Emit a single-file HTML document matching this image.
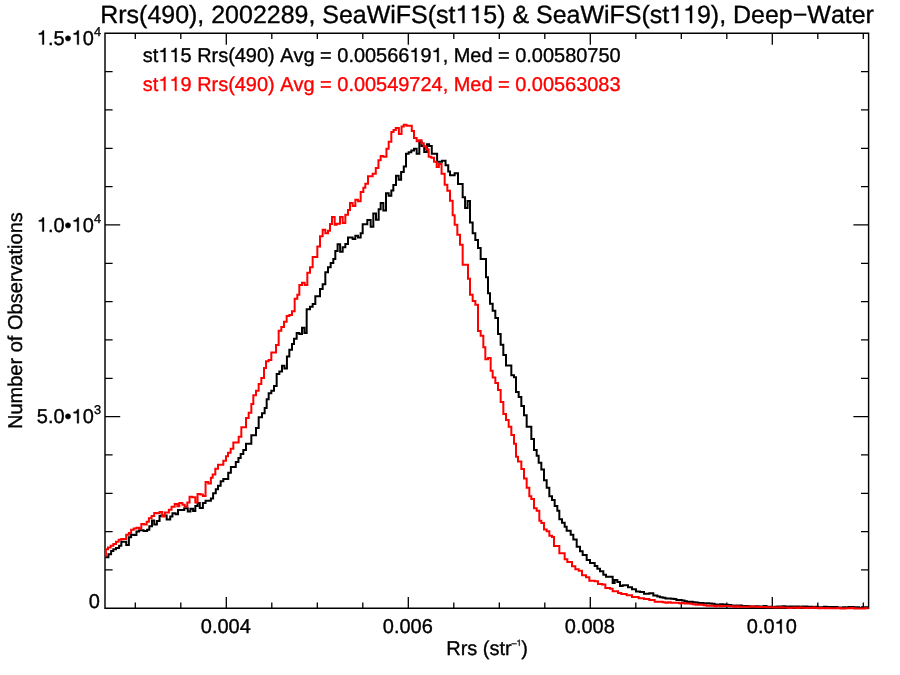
<!DOCTYPE html>
<html><head><meta charset="utf-8"><title>Rrs(490) histogram</title>
<style>
html,body{margin:0;padding:0;background:#fff;}
body{width:900px;height:675px;overflow:hidden;font-family:"Liberation Sans",sans-serif;}
svg{display:block;will-change:transform;}
text{font-family:"Liberation Sans",sans-serif;fill:#000;stroke:#000;stroke-width:0.35px;font-kerning:none;font-variant-ligatures:none;}
</style></head><body>
<svg width="900" height="675" viewBox="0 0 900 675" text-rendering="geometricPrecision">
<rect width="900" height="675" fill="#ffffff"/>
<!-- title -->
<text x="487.1" y="23.0" text-anchor="middle" font-size="24.97">Rrs(490), 2002289, SeaWiFS(st<tspan visibility="hidden">1</tspan><tspan visibility="hidden">1</tspan>5) &amp; SeaWiFS(st<tspan visibility="hidden">1</tspan><tspan visibility="hidden">1</tspan>9), Deep−Water</text>
<!-- legend -->
<text x="142.8" y="62.0" font-size="19.96">st<tspan visibility="hidden">1</tspan><tspan visibility="hidden">1</tspan>5 Rrs(490) Avg = 0.00566<tspan visibility="hidden">1</tspan>9<tspan visibility="hidden">1</tspan>, Med = 0.00580750</text>
<text x="142.8" y="90.8" font-size="19.96" style="fill:#ff0000;stroke:#ff0000">st<tspan visibility="hidden">1</tspan><tspan visibility="hidden">1</tspan>9 Rrs(490) Avg = 0.00549724, Med = 0.00563083</text>
<!-- axis labels -->
<text transform="translate(22,320.6) rotate(-90)" text-anchor="middle" font-size="20.0">Number of Observations</text>
<text x="446.2" y="655.0" font-size="20.0">Rrs (str<tspan font-size="8.6" dy="-9.3">–<tspan visibility="hidden">1</tspan></tspan><tspan dy="9.3">)</tspan></text>
<text x="101.0" y="44.6" text-anchor="end" font-size="20.00"><tspan visibility="hidden">1</tspan>.5•<tspan visibility="hidden">1</tspan>0<tspan font-size="12.80" dy="-9">4</tspan></text>
<text x="101.0" y="231.6" text-anchor="end" font-size="20.00"><tspan visibility="hidden">1</tspan>.0•<tspan visibility="hidden">1</tspan>0<tspan font-size="12.80" dy="-9">4</tspan></text>
<text x="101.0" y="423.2" text-anchor="end" font-size="20.00">5.0•<tspan visibility="hidden">1</tspan>0<tspan font-size="12.80" dy="-9">3</tspan></text>
<text x="99.8" y="608.0" text-anchor="end" font-size="20.00">0</text>
<text x="225.8" y="633.4" text-anchor="middle" font-size="20.00">0.004</text>
<text x="407.8" y="633.4" text-anchor="middle" font-size="20.00">0.006</text>
<text x="589.8" y="633.4" text-anchor="middle" font-size="20.00">0.008</text>
<text x="771.8" y="633.4" text-anchor="middle" font-size="20.00">0.0<tspan visibility="hidden">1</tspan>0</text>
<path transform="translate(455.51,23.00) scale(24.970)" d="M0.359,0H0.275V-0.501H0.101V-0.564C0.190,-0.567 0.262,-0.600 0.293,-0.703H0.359Z" fill="#000000" stroke="#000000" stroke-width="0.0140"/>
<path transform="translate(469.40,23.00) scale(24.970)" d="M0.359,0H0.275V-0.501H0.101V-0.564C0.190,-0.567 0.262,-0.600 0.293,-0.703H0.359Z" fill="#000000" stroke="#000000" stroke-width="0.0140"/>
<path transform="translate(669.22,23.00) scale(24.970)" d="M0.359,0H0.275V-0.501H0.101V-0.564C0.190,-0.567 0.262,-0.600 0.293,-0.703H0.359Z" fill="#000000" stroke="#000000" stroke-width="0.0140"/>
<path transform="translate(683.11,23.00) scale(24.970)" d="M0.359,0H0.275V-0.501H0.101V-0.564C0.190,-0.567 0.262,-0.600 0.293,-0.703H0.359Z" fill="#000000" stroke="#000000" stroke-width="0.0140"/>
<path transform="translate(158.32,62.00) scale(19.960)" d="M0.359,0H0.275V-0.501H0.101V-0.564C0.190,-0.567 0.262,-0.600 0.293,-0.703H0.359Z" fill="#000000" stroke="#000000" stroke-width="0.0175"/>
<path transform="translate(169.41,62.00) scale(19.960)" d="M0.359,0H0.275V-0.501H0.101V-0.564C0.190,-0.567 0.262,-0.600 0.293,-0.703H0.359Z" fill="#000000" stroke="#000000" stroke-width="0.0175"/>
<path transform="translate(409.38,62.00) scale(19.960)" d="M0.359,0H0.275V-0.501H0.101V-0.564C0.190,-0.567 0.262,-0.600 0.293,-0.703H0.359Z" fill="#000000" stroke="#000000" stroke-width="0.0175"/>
<path transform="translate(431.57,62.00) scale(19.960)" d="M0.359,0H0.275V-0.501H0.101V-0.564C0.190,-0.567 0.262,-0.600 0.293,-0.703H0.359Z" fill="#000000" stroke="#000000" stroke-width="0.0175"/>
<path transform="translate(158.32,90.80) scale(19.960)" d="M0.359,0H0.275V-0.501H0.101V-0.564C0.190,-0.567 0.262,-0.600 0.293,-0.703H0.359Z" fill="#ff0000" stroke="#ff0000" stroke-width="0.0175"/>
<path transform="translate(169.41,90.80) scale(19.960)" d="M0.359,0H0.275V-0.501H0.101V-0.564C0.190,-0.567 0.262,-0.600 0.293,-0.703H0.359Z" fill="#ff0000" stroke="#ff0000" stroke-width="0.0175"/>
<path transform="translate(516.53,645.70) scale(8.600)" d="M0.359,0H0.275V-0.501H0.101V-0.564C0.190,-0.567 0.262,-0.600 0.293,-0.703H0.359Z" fill="#000000" stroke="#000000" stroke-width="0.0407"/>
<path transform="translate(36.81,44.60) scale(20.000)" d="M0.359,0H0.275V-0.501H0.101V-0.564C0.190,-0.567 0.262,-0.600 0.293,-0.703H0.359Z" fill="#000000" stroke="#000000" stroke-width="0.0175"/>
<path transform="translate(71.62,44.60) scale(20.000)" d="M0.359,0H0.275V-0.501H0.101V-0.564C0.190,-0.567 0.262,-0.600 0.293,-0.703H0.359Z" fill="#000000" stroke="#000000" stroke-width="0.0175"/>
<path transform="translate(36.81,231.60) scale(20.000)" d="M0.359,0H0.275V-0.501H0.101V-0.564C0.190,-0.567 0.262,-0.600 0.293,-0.703H0.359Z" fill="#000000" stroke="#000000" stroke-width="0.0175"/>
<path transform="translate(71.62,231.60) scale(20.000)" d="M0.359,0H0.275V-0.501H0.101V-0.564C0.190,-0.567 0.262,-0.600 0.293,-0.703H0.359Z" fill="#000000" stroke="#000000" stroke-width="0.0175"/>
<path transform="translate(71.62,423.20) scale(20.000)" d="M0.359,0H0.275V-0.501H0.101V-0.564C0.190,-0.567 0.262,-0.600 0.293,-0.703H0.359Z" fill="#000000" stroke="#000000" stroke-width="0.0175"/>
<path transform="translate(774.58,633.40) scale(20.000)" d="M0.359,0H0.275V-0.501H0.101V-0.564C0.190,-0.567 0.262,-0.600 0.293,-0.703H0.359Z" fill="#000000" stroke="#000000" stroke-width="0.0175"/>
<!-- frame + ticks -->
<path d="M105.0,33.3H868.6V608.3H105.0Z" fill="none" stroke="#000" stroke-width="1.45"/>
<path d="M135.30,608.30v-5.70M135.30,33.30v5.70M180.80,608.30v-5.70M180.80,33.30v5.70M226.30,608.30v-11.40M226.30,33.30v11.40M271.80,608.30v-5.70M271.80,33.30v5.70M317.30,608.30v-5.70M317.30,33.30v5.70M362.80,608.30v-5.70M362.80,33.30v5.70M408.30,608.30v-11.40M408.30,33.30v11.40M453.80,608.30v-5.70M453.80,33.30v5.70M499.30,608.30v-5.70M499.30,33.30v5.70M544.80,608.30v-5.70M544.80,33.30v5.70M590.30,608.30v-11.40M590.30,33.30v11.40M635.80,608.30v-5.70M635.80,33.30v5.70M681.30,608.30v-5.70M681.30,33.30v5.70M726.80,608.30v-5.70M726.80,33.30v5.70M772.30,608.30v-11.40M772.30,33.30v11.40M817.80,608.30v-5.70M817.80,33.30v5.70M863.30,608.30v-5.70M863.30,33.30v5.70M105.00,569.97h7.60M868.60,569.97h-7.60M105.00,531.63h7.60M868.60,531.63h-7.60M105.00,493.30h7.60M868.60,493.30h-7.60M105.00,454.97h7.60M868.60,454.97h-7.60M105.00,416.63h15.20M868.60,416.63h-15.20M105.00,378.30h7.60M868.60,378.30h-7.60M105.00,339.97h7.60M868.60,339.97h-7.60M105.00,301.63h7.60M868.60,301.63h-7.60M105.00,263.30h7.60M868.60,263.30h-7.60M105.00,224.97h15.20M868.60,224.97h-15.20M105.00,186.63h7.60M868.60,186.63h-7.60M105.00,148.30h7.60M868.60,148.30h-7.60M105.00,109.97h7.60M868.60,109.97h-7.60M105.00,71.63h7.60M868.60,71.63h-7.60" fill="none" stroke="#000" stroke-width="1.3"/>
<!-- histograms -->
<path d="M105.33,557.33H108.44V554.22H111.11V551.11H113.33V549.33H116.00V548.00H119.11V545.78H121.33V541.78H126.22V544.89H128.89V537.33H131.11V534.67H133.78V535.11H136.44V531.56H139.11V530.22H143.56V531.11H147.11V529.78H149.33V526.22H152.00V520.44H154.22V524.44H156.89V520.89H159.56V516.00H161.33V515.56H166.67V519.56H170.22V516.44H172.44V513.33H175.56V514.22H178.00V510.11H184.22V508.33H187.78V511.44H190.44V508.78H193.11V511.00H195.33V506.11H197.56V503.00H199.78V507.89H202.89V503.00H205.56V500.78H210.89V498.56H213.11V493.22H215.78V489.22H218.00V485.67H220.67V481.22H223.33V479.00H228.22V472.78H230.89V467.00H235.78V462.11H238.44V458.11H240.67V454.00H243.33V450.00H246.00V443.73H251.33V435.33H256.00V428.00H258.67V417.33H262.00V413.33H264.67V408.00H266.67V399.33H268.67V393.33H271.33V390.67H274.00V386.00H276.67V374.00H279.33V371.60H282.00V365.73H284.40V368.40H286.93V356.40H289.33V349.73H292.00V344.00H294.00V338.67H296.67V332.93H299.33V334.00H302.00V327.73H304.40V332.93H306.67V309.33H310.00V306.67H312.67V304.00H315.33V296.27H320.00V289.07H322.67V284.27H325.33V272.27H328.00V267.33H330.67V262.93H333.33V258.93H335.33V250.93H337.60V244.27H340.13V251.73H342.67V247.33H345.33V244.00H348.00V237.60H352.67V238.93H355.33V235.73H358.00V237.60H360.67V233.33H362.67V224.27H367.33V220.00H370.67V226.67H373.33V213.60H376.00V219.73H378.67V209.33H380.67V202.93H383.33V210.40H386.00V193.33H388.67V195.73H391.33V190.40H393.33V185.07H396.00V175.73H398.67V179.73H401.11V171.89H403.78V166.38H406.00V153.67H408.67V152.33H411.33V150.56H414.00V148.78H416.67V153.67H419.33V141.67H421.56V146.11H424.22V151.89H426.89V144.33H429.11V146.11H431.78V153.67H437.11V161.67H442.00V160.78H445.56V165.22H448.22V171.44H450.00V175.33H454.67V173.33H458.00V184.00H462.67V197.33H465.07V208.00H467.60V201.07H470.00V222.40H472.67V233.33H475.33V240.00H478.00V248.00H480.67V258.93H486.00V277.33H488.00V293.33H490.00V303.73H492.67V310.67H495.33V318.00H498.00V334.00H500.67V344.67H503.33V354.93H506.00V365.60H511.33V375.33H514.00V377.33H516.00V392.00H518.67V397.07H521.33V406.00H524.00V415.33H526.67V426.67H531.33V438.93H534.00V450.00H536.67V455.73H538.67V462.67H541.33V469.60H544.00V480.27H546.67V487.73H549.33V496.27H552.00V500.00H554.67V506.00H557.33V510.67H559.33V519.33H562.00V522.67H564.67V526.67H566.67V530.67H570.67V534.67H573.33V539.60H576.67V546.67H580.00V551.33H582.67V555.07H586.67V560.00H590.00V563.07H594.67V566.00H597.33V568.67H600.00V571.33H603.33V574.67H606.00V576.67H612.67V583.07H614.67V580.00H617.33V582.00H620.00V586.00H622.67V585.33H628.00V587.33H632.00V589.33H636.00V591.60H640.00V592.00H644.00V593.73H649.33V593.33H653.33V595.60H657.33V596.40H660.00V597.27H662.73V597.67H665.46V598.41H668.19V598.49H670.92V598.80H673.65V599.09H676.38V600.12H679.11V600.02H681.84V600.60H684.57V601.20H687.30V602.10H690.03V601.72H692.76V602.23H695.49V602.51H698.22V602.99H700.95V603.12H703.68V603.41H706.41V603.17H709.14V603.58H711.87V603.81H714.60V604.57H717.33V604.86H720.06V604.34H722.79V604.57H725.52V604.82H728.25V605.03H730.98V605.41H733.71V605.65H736.44V605.50H739.17V605.41H741.90V605.93H744.63V605.95H747.36V606.19H750.09V606.60H752.82V606.43H755.55V606.34H758.28V606.50H761.01V606.59H763.74V606.06H766.47V606.86H769.20V606.78H771.93V606.90H774.66V606.87H777.39V606.54H780.12V606.58H782.85V606.35H785.58V606.86H788.31V606.38H791.04V606.42H793.77V606.58H796.50V606.57H799.23V606.76H801.96V606.53H804.69V606.51H807.42V606.67H810.15V606.66H812.88V606.92H815.61V606.64H818.34V607.43H821.07V607.23H823.80V606.84H826.53V606.96H829.26V607.07H831.99V607.11H834.72V606.92H837.45V607.60H840.18V607.77H842.91V607.33H845.64V607.38H848.37V607.06H851.10V607.12H853.83V607.37H856.56V607.34H859.29V607.89H862.02V607.32H864.75V607.24H867.48V608.11H868.60" fill="none" stroke="#000000" stroke-width="2" stroke-linejoin="miter"/>
<path d="M105.9,556.5V549.33H108.00V547.56H110.67V545.78H113.33V544.00H116.00V541.78H118.67V539.73H121.33V539.11H126.22V534.67H128.89V532.89H131.11V529.78H133.78V528.44H136.44V527.73H139.11V528.44H141.33V524.00H144.00V524.44H146.67V521.78H148.89V518.22H151.56V516.00H154.22V512.89H156.89V513.33H159.56V512.00H162.22V516.44H164.89V512.44H168.89V509.78H171.56V506.67H174.67V504.00H177.33V506.22H179.33V503.00H182.44V504.78H184.67V506.56H187.33V502.56H189.56V496.78H192.22V497.22H195.33V502.56H197.56V494.11H200.22V494.56H202.89V495.89H205.56V482.11H208.22V483.44H210.89V477.67H212.67V474.56H215.33V468.78H218.00V464.78H223.33V460.78H226.00V456.33H228.00V452.67H230.67V448.67H233.33V442.40H238.67V436.67H241.33V427.33H246.00V418.00H248.67V412.67H251.33V404.00H253.33V395.33H256.00V390.67H258.67V384.00H261.33V378.00H264.00V368.00H266.00V361.33H268.67V360.00H271.33V352.40H276.00V344.93H278.67V330.67H281.33V327.07H284.00V321.73H286.67V316.00H289.33V315.07H292.00V311.33H294.67V298.67H297.33V294.67H299.33V285.07H302.00V282.67H304.67V285.07H307.33V272.67H310.00V267.33H312.67V257.07H317.33V246.40H320.00V236.27H322.67V229.73H325.33V233.33H328.00V230.67H330.00V224.00H332.00V217.07H334.67V224.67H336.67V223.73H340.00V217.07H342.67V222.93H345.33V214.67H348.00V210.00H350.00V202.93H352.67V206.00H355.33V199.73H358.00V201.33H360.67V192.00H363.33V187.73H365.33V183.73H368.00V176.27H372.67V173.67H375.78V167.89H378.44V160.16H380.67V156.07H383.33V156.78H386.44V148.78H388.67V141.67H391.33V131.89H393.56V130.11H395.78V127.89H398.89V134.11H401.56V126.56H403.78V124.78H406.44V125.67H411.78V131.00H414.00V138.11H416.67V141.22H418.89V140.33H421.56V143.27H423.78V146.56H426.00V149.22H428.67V156.78H431.33V157.67H434.00V161.67H436.67V167.00H438.89V163.89H441.56V173.67H444.67V184.67H447.33V190.67H450.00V200.67H452.67V215.33H454.67V224.67H457.33V234.67H460.00V244.67H462.67V264.67H468.00V278.67H470.00V294.67H472.67V301.07H475.33V304.67H478.00V330.93H480.67V335.73H483.33V347.33H485.33V359.33H488.00V358.00H490.67V370.67H492.67V377.60H495.33V382.93H498.00V390.00H500.67V402.00H503.33V414.00H506.00V420.00H508.67V426.67H511.33V434.93H514.00V443.73H516.00V456.67H518.00V461.60H521.33V469.07H524.00V478.40H526.67V487.73H529.33V496.27H531.33V498.93H534.00V508.27H536.67V510.67H539.33V520.67H541.33V522.93H544.00V529.60H546.67V531.33H549.33V535.73H552.00V537.07H554.00V546.00H559.33V553.33H564.67V559.33H567.33V562.00H572.00V566.27H575.33V569.33H578.67V570.67H582.00V575.33H586.00V577.33H589.33V580.67H594.67V581.33H598.00V584.00H602.00V584.40H605.33V588.00H610.00V588.67H612.67V591.33H618.00V592.93H621.33V594.00H626.67V595.33H632.00V596.93H638.67V598.27H644.00V599.07H649.33V600.00H654.67V601.73H660.00V601.75H662.73V602.19H665.46V602.64H668.19V602.33H670.92V602.76H673.65V602.74H676.38V602.68H679.11V603.22H681.84V603.11H684.57V603.62H687.30V603.59H690.03V603.83H692.76V604.30H695.49V604.81H698.22V604.55H700.95V604.85H703.68V605.32H706.41V605.73H709.14V605.65H711.87V605.70H714.60V606.29H717.33V605.73H720.06V606.36H722.79V606.02H725.52V605.98H728.25V606.02H730.98V606.24H733.71V606.68H736.44V606.32H739.17V606.68H741.90V606.80H744.63V606.65H747.36V606.82H750.09V606.51H752.82V606.55H755.55V606.69H758.28V607.11H761.01V607.01H763.74V607.02H766.47V607.29H769.20V607.28H771.93V607.21H774.66V607.61H777.39V607.59H780.12V607.31H782.85V607.59H785.58V607.60H788.31V607.89H791.04V607.83H793.77V607.57H796.50V608.10H799.23V607.54H801.96V607.77H804.69V608.03H807.42V607.63H810.15V607.89H812.88V607.60H815.61V608.07H818.34V608.16H821.07V608.05H823.80V608.28H826.53V607.91H829.26V608.20H831.99V608.16H834.72V608.17H837.45V608.11H840.18V608.40H842.91V608.40H845.64V608.19H848.37V608.35H851.10V607.95H853.83V608.40H856.56V608.40H859.29V608.40H862.02V608.40H864.75V608.23H867.48V608.32H868.60" fill="none" stroke="#ff0000" stroke-width="2" stroke-linejoin="miter"/>
</svg>
</body></html>
